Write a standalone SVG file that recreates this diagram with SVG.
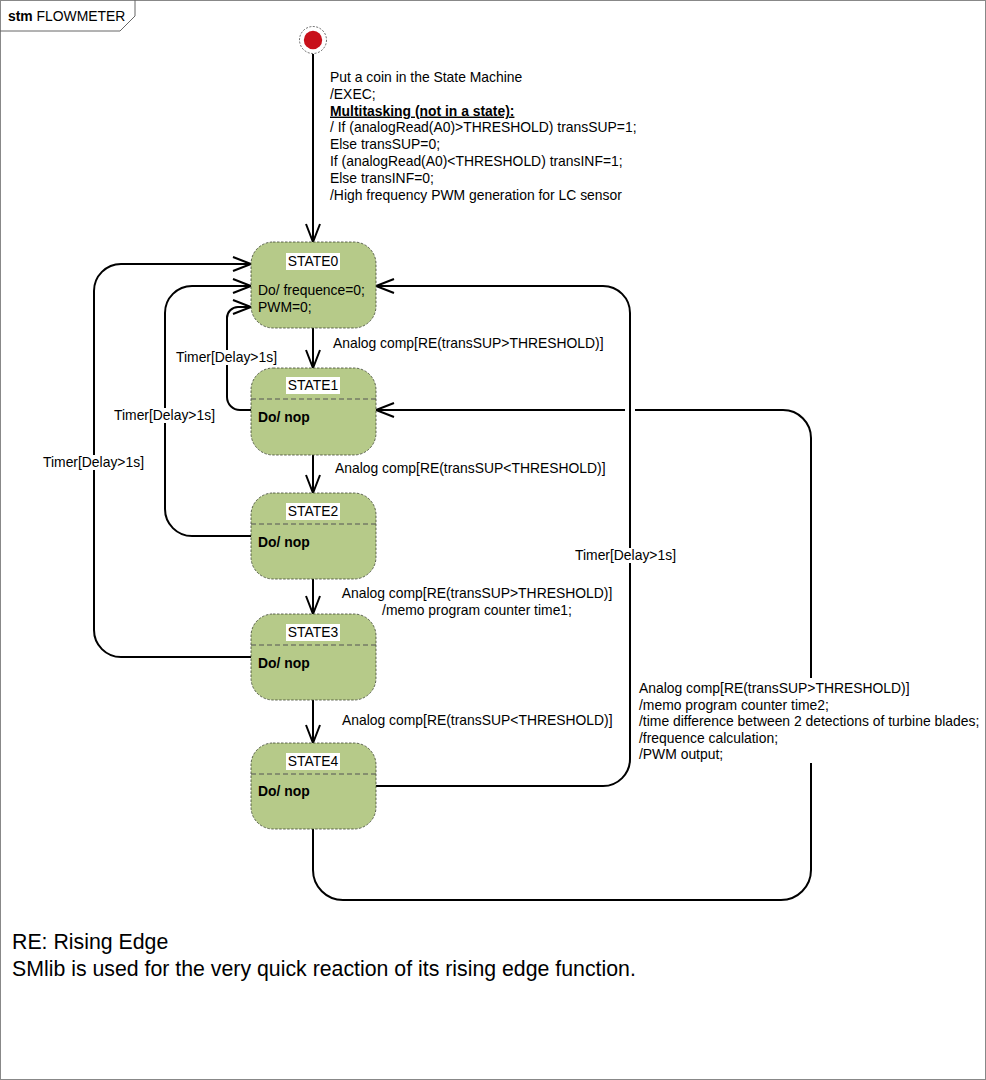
<svg xmlns="http://www.w3.org/2000/svg" width="986" height="1080" viewBox="0 0 986 1080">
<style>
text{font-family:"Liberation Sans",Arial,sans-serif;font-size:13.9px;fill:#000}
.b{font-weight:bold}
.big{font-size:21.3px}
.st{fill:#b6ca89;stroke:#3c4430;stroke-width:0.8;stroke-dasharray:2.5 1.5}
.dv{stroke:#555;stroke-width:1;stroke-dasharray:5 3}
.c{fill:none;stroke:#000;stroke-width:2}
.bg{fill:#fff}
</style>
<defs>
<marker id="ah" markerUnits="userSpaceOnUse" markerWidth="22" markerHeight="18" refX="19" refY="8" orient="auto">
<path d="M1,1 L19,8 L1,15" fill="none" stroke="#000" stroke-width="2"/>
</marker>
</defs>
<rect x="0.5" y="0.5" width="985" height="1079" fill="#fff" stroke="#888" stroke-width="1"/>
<g id="frame-tab">
<path d="M135,0 V16 L120,31 H0" fill="none" stroke="#666" stroke-width="1"/>
<text x="8" y="21"><tspan class="b">stm</tspan> FLOWMETER</text>
</g>

<g id="connectors">
<line class="c" x1="313" y1="54" x2="313" y2="242" marker-end="url(#ah)"/>
<line class="c" x1="313" y1="328" x2="313" y2="368" marker-end="url(#ah)"/>
<line class="c" x1="313" y1="455" x2="313" y2="493" marker-end="url(#ah)"/>
<line class="c" x1="313" y1="579" x2="313" y2="614" marker-end="url(#ah)"/>
<line class="c" x1="313" y1="700" x2="313" y2="743" marker-end="url(#ah)"/>
<path class="c" d="M251,410 H240 A13,13 0 0 1 227,397 V318 A11,11 0 0 1 238,307 H251" marker-end="url(#ah)"/>
<path class="c" d="M251,536 H192 A27,27 0 0 1 165,509 V313 A27,27 0 0 1 192,286 H251" marker-end="url(#ah)"/>
<path class="c" d="M251,657 H121 A27,27 0 0 1 94,630 V291 A27,27 0 0 1 121,264 H251" marker-end="url(#ah)"/>
<path class="c" d="M313,829 V870 A30,30 0 0 0 343,900 H781 A30,30 0 0 0 811,870 V438 A28,28 0 0 0 783,410 H376" marker-end="url(#ah)"/>
<rect x="625" y="405" width="10" height="10" fill="#fff"/>
<path class="c" d="M376,786 H603 A27,27 0 0 0 630,759 V313 A27,27 0 0 0 603,286 H376" marker-end="url(#ah)"/>
</g>

<g id="initial">
<circle cx="313" cy="40" r="13.5" fill="#fff" stroke="#444" stroke-width="0.8" stroke-dasharray="2 1.5"/>
<circle cx="313" cy="40" r="9.2" fill="#c8101a"/>
</g>

<g id="init-label">
<text x="330" y="82">Put a coin in the State Machine</text>
<text x="330" y="98.8">/EXEC;</text>
<text x="330" y="115.6" class="b" text-decoration="underline">Multitasking (not in a state):</text>
<text x="330" y="132.4">/ If (analogRead(A0)&gt;THRESHOLD) transSUP=1;</text>
<text x="330" y="149.2">Else transSUP=0;</text>
<text x="330" y="166">If (analogRead(A0)&lt;THRESHOLD) transINF=1;</text>
<text x="330" y="182.8">Else transINF=0;</text>
<text x="330" y="199.6">/High frequency PWM generation for LC sensor</text>
</g>

<g id="STATE0">
<rect class="st" x="251" y="242" width="125" height="86" rx="22"/>
<rect class="bg" x="286" y="253" width="54" height="17"/>
<text x="313" y="266" text-anchor="middle">STATE0</text>
<text x="258" y="295">Do/ frequence=0;</text>
<text x="258" y="312">PWM=0;</text>
</g>
<g id="STATE1">
<rect class="st" x="251" y="368" width="125" height="87" rx="22"/>
<line class="dv" x1="251" y1="399" x2="376" y2="399"/>
<rect class="bg" x="286" y="377" width="54" height="17"/>
<text x="313" y="390" text-anchor="middle">STATE1</text>
<text x="258" y="422" class="b">Do/ nop</text>
</g>
<g id="STATE2">
<rect class="st" x="251" y="493" width="125" height="86" rx="22"/>
<line class="dv" x1="251" y1="524" x2="376" y2="524"/>
<rect class="bg" x="286" y="503" width="54" height="17"/>
<text x="313" y="516" text-anchor="middle">STATE2</text>
<text x="258" y="547" class="b">Do/ nop</text>
</g>
<g id="STATE3">
<rect class="st" x="251" y="614" width="125" height="86" rx="22"/>
<line class="dv" x1="251" y1="645" x2="376" y2="645"/>
<rect class="bg" x="286" y="624" width="54" height="17"/>
<text x="313" y="637" text-anchor="middle">STATE3</text>
<text x="258" y="668" class="b">Do/ nop</text>
</g>
<g id="STATE4">
<rect class="st" x="251" y="743" width="125" height="86" rx="22"/>
<line class="dv" x1="251" y1="774" x2="376" y2="774"/>
<rect class="bg" x="286" y="753" width="54" height="17"/>
<text x="313" y="766" text-anchor="middle">STATE4</text>
<text x="258" y="796" class="b">Do/ nop</text>
</g>

<g id="labels">
<text x="333" y="348">Analog comp[RE(transSUP&gt;THRESHOLD)]</text>
<text x="335" y="473">Analog comp[RE(transSUP&lt;THRESHOLD)]</text>
<text x="477" y="598" text-anchor="middle">Analog comp[RE(transSUP&gt;THRESHOLD)]</text>
<text x="477" y="615" text-anchor="middle">/memo program counter time1;</text>
<text x="342" y="725">Analog comp[RE(transSUP&lt;THRESHOLD)]</text>
<rect class="bg" x="175" y="350" width="104" height="15"/>
<text x="176" y="362">Timer[Delay&gt;1s]</text>
<rect class="bg" x="113" y="408" width="104" height="15"/>
<text x="114" y="420">Timer[Delay&gt;1s]</text>
<rect class="bg" x="42" y="455" width="104" height="15"/>
<text x="43" y="467">Timer[Delay&gt;1s]</text>
<rect class="bg" x="574" y="548" width="104" height="15"/>
<text x="575" y="560">Timer[Delay&gt;1s]</text>
<rect class="bg" x="637" y="678" width="344" height="85"/>
<text x="639" y="693">Analog comp[RE(transSUP&gt;THRESHOLD)]</text>
<text x="639" y="709.5">/memo program counter time2;</text>
<text x="639" y="726">/time difference between 2 detections of turbine blades;</text>
<text x="639" y="742.5">/frequence calculation;</text>
<text x="639" y="759">/PWM output;</text>
</g>

<g id="note">
<text x="12" y="949" class="big">RE: Rising Edge</text>
<text x="12" y="976" class="big">SMlib is used for the very quick reaction of its rising edge function.</text>
</g>
</svg>
